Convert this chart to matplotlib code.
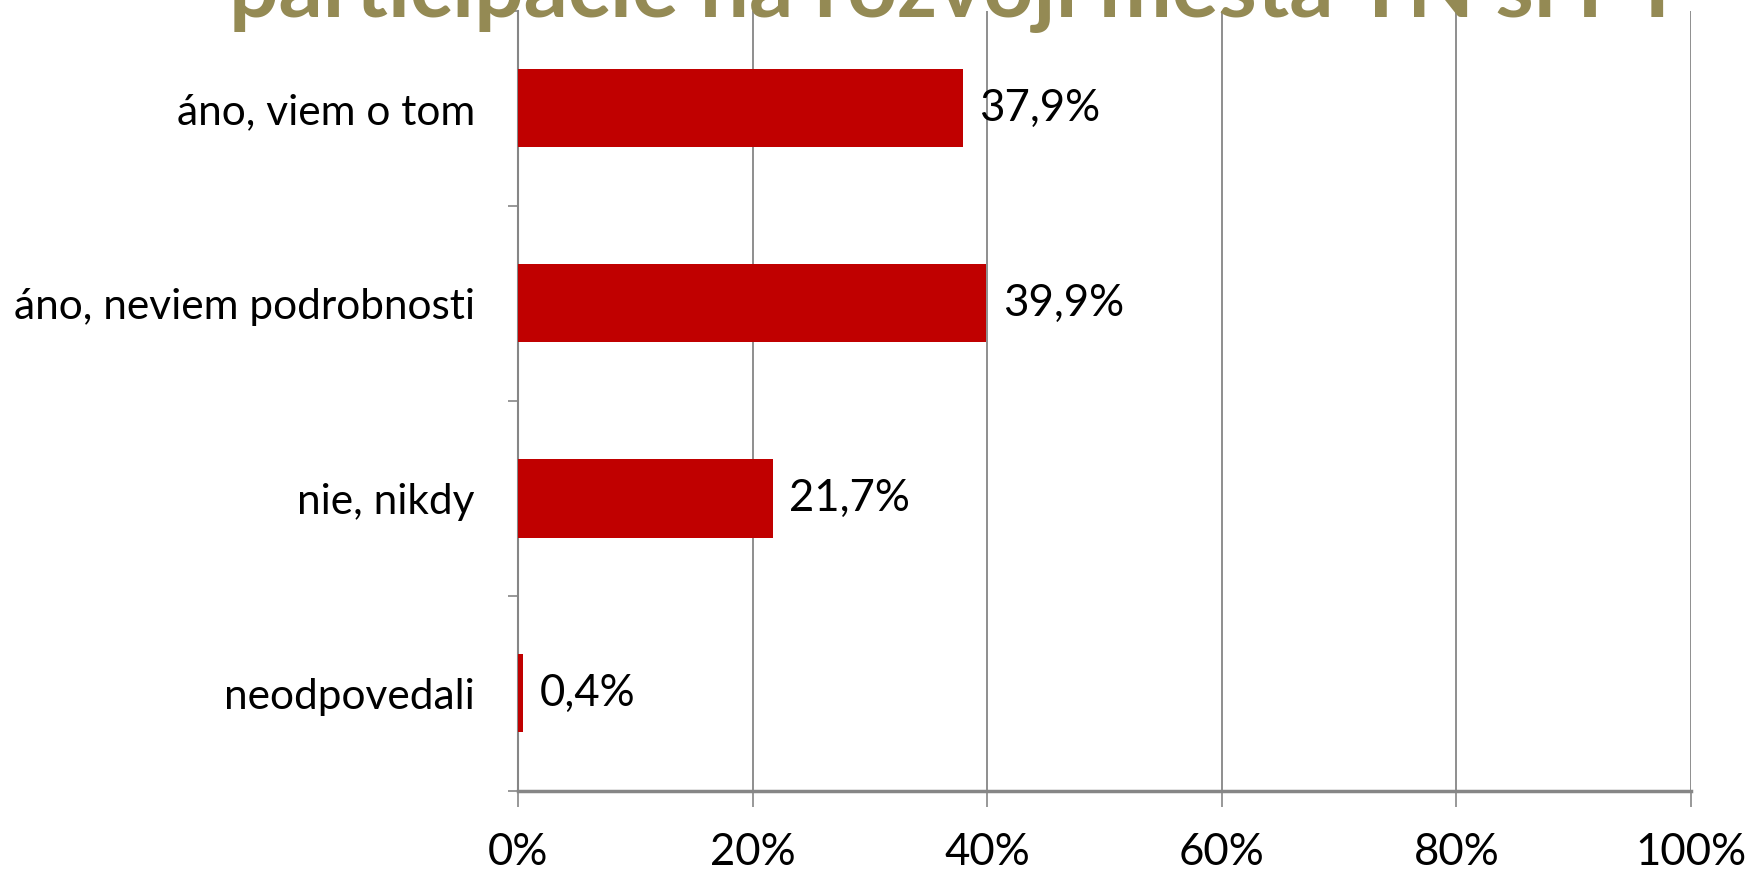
import matplotlib
matplotlib.use("Agg")
import matplotlib.pyplot as plt
from matplotlib.ticker import FixedLocator

# ---- data ----
categories = ["áno, viem o tom", "áno, neviem podrobnosti", "nie, nikdy", "neodpovedali"]
values = [37.9, 39.9, 21.7, 0.4]
value_labels = ["37,9%", "39,9%", "21,7%", "0,4%"]
x_ticks = [0, 20, 40, 60, 80, 100]
x_tick_labels = ["0%", "20%", "40%", "60%", "80%", "100%"]
title_text = "participácie na rozvoji mesta TN si PT"

FONT = "Lato"
BAR = "#C00000"
GRID = "#868686"
TITLE_COLOR = "#948A54"

W, H, DPI = 17.48, 8.72, 100
fig = plt.figure(figsize=(W, H), dpi=DPI)
ax = fig.add_axes([518 / 1748, 1 - 791 / 872, (1691 - 518) / 1748, (791 - 11) / 872])

ypos = list(range(len(categories)))
ax.barh(ypos, values, height=0.4, color=BAR, zorder=3)
ax.set_ylim(len(categories) - 0.5, -0.5)
ax.set_xlim(0, 100)

# value labels
for y, v, lab in zip(ypos, values, value_labels):
    ax.annotate(lab, (v, y), xytext=(12, 0), textcoords="offset points",
                ha="left", va="center", fontsize=31.5, family=FONT, color="black", zorder=4)

# x axis
ax.set_xticks(x_ticks)
ax.set_xticklabels(x_tick_labels, fontsize=31.5, family=FONT)
ax.tick_params(axis="x", length=11.5, width=1.2, color=GRID, pad=18)
ax.xaxis.grid(True, color=GRID, linewidth=1.3, zorder=0)

# y axis
ax.set_yticks(ypos)
ax.set_yticklabels(categories, fontsize=30.5, family=FONT)
ax.tick_params(axis="y", which="major", length=0, pad=31)
ax.yaxis.set_minor_locator(FixedLocator([i + 0.5 for i in range(-1, len(categories))]))
ax.tick_params(axis="y", which="minor", length=7, width=1.2, color=GRID)

for s in ["top", "right"]:
    ax.spines[s].set_visible(False)
ax.spines["left"].set_color(GRID)
ax.spines["left"].set_linewidth(1.5)
ax.spines["bottom"].set_color(GRID)
ax.spines["bottom"].set_linewidth(2.5)
ax.set_axisbelow(True)

# title, clipped at top of figure as in the reference
t = fig.text(229 / 1748, 1 - 17 / 872, title_text, ha="left", va="baseline",
             fontsize=60, fontweight="bold", family=FONT, color=TITLE_COLOR)
fig.canvas.draw()
ext = t.get_window_extent()
t.set_fontsize(60 * (1683 - 229) / ext.width)

fig.savefig("out.png", dpi=DPI)
